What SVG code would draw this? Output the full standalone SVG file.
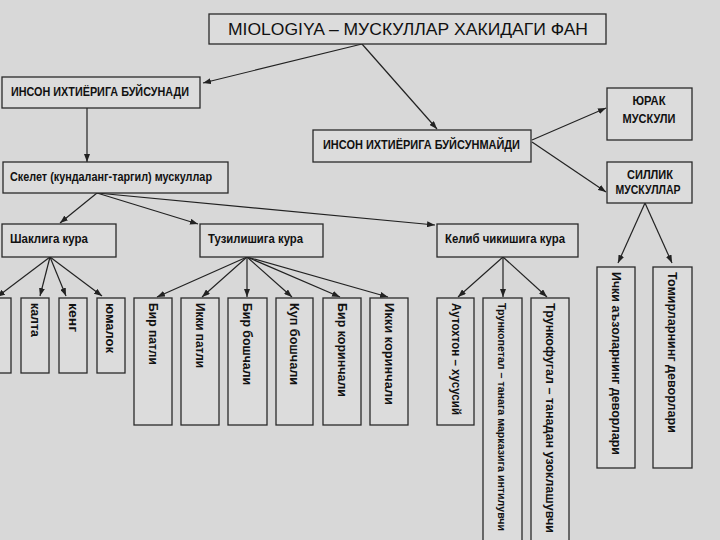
<svg xmlns="http://www.w3.org/2000/svg" width="720" height="540" viewBox="0 0 720 540">
<style>
.bg{fill:#d8d8d8}
.box{fill:#dcdcdc;stroke:#2a2a2a;stroke-width:1.3}
.t{font-family:"Liberation Sans",Arial,sans-serif;font-weight:bold;font-size:12px;fill:#111}
.title{font-family:"Liberation Sans",Arial,sans-serif;font-size:16px;fill:#111}
.c{text-anchor:middle}
.ln{stroke:#222;stroke-width:1.2;fill:none;marker-end:url(#ah)}
</style>
<defs>
<marker id="ah" markerUnits="userSpaceOnUse" markerWidth="8" markerHeight="6" refX="8" refY="3" orient="auto">
<path d="M0,0 L8,3 L0,6 z" fill="#222"/>
</marker>
</defs>
<rect class="bg" x="0" y="0" width="720" height="540"/>

<g id="connectors">
<line class="ln" x1="362" y1="44" x2="203" y2="83"/>
<line class="ln" x1="362" y1="44" x2="437" y2="129"/>
<line class="ln" x1="532" y1="140" x2="606" y2="108"/>
<line class="ln" x1="532" y1="142" x2="606" y2="192"/>
<line class="ln" x1="87" y1="108" x2="87" y2="162"/>
<line class="ln" x1="97" y1="193" x2="60" y2="223"/>
<line class="ln" x1="97" y1="193" x2="198" y2="224"/>
<line class="ln" x1="97" y1="193" x2="435" y2="225"/>
<line class="ln" x1="50" y1="257" x2="-3" y2="297"/>
<line class="ln" x1="50" y1="257" x2="40" y2="296"/>
<line class="ln" x1="50" y1="257" x2="66" y2="296"/>
<line class="ln" x1="50" y1="257" x2="102" y2="296"/>
<line class="ln" x1="247" y1="257" x2="157" y2="297"/>
<line class="ln" x1="247" y1="257" x2="202" y2="297"/>
<line class="ln" x1="247" y1="257" x2="247" y2="297"/>
<line class="ln" x1="247" y1="257" x2="292" y2="297"/>
<line class="ln" x1="247" y1="257" x2="340" y2="297"/>
<line class="ln" x1="247" y1="257" x2="388" y2="297"/>
<line class="ln" x1="503" y1="257" x2="458" y2="297"/>
<line class="ln" x1="503" y1="257" x2="503" y2="297"/>
<line class="ln" x1="503" y1="257" x2="547" y2="297"/>
<line class="ln" x1="645" y1="203" x2="618" y2="263"/>
<line class="ln" x1="645" y1="203" x2="672" y2="263"/>
</g>

<g id="title">
<rect class="box" x="209" y="14" width="397" height="30"/>
<text class="title" x="228" y="35" textLength="360" lengthAdjust="spacingAndGlyphs">MIOLOGIYA – МУСКУЛЛАР ХАКИДАГИ ФАН</text>
</g>
<g id="buysunadi">
<rect class="box" x="2" y="77" width="198" height="31"/>
<text class="t" x="11" y="96" textLength="178" lengthAdjust="spacingAndGlyphs">ИНСОН ИХТИЁРИГА БУЙСУНАДИ</text>
</g>
<g id="buysunmaydi">
<rect class="box" x="313" y="130" width="218" height="32"/>
<text class="t" x="323" y="149" textLength="197" lengthAdjust="spacingAndGlyphs">ИНСОН ИХТИЁРИГА БУЙСУНМАЙДИ</text>
</g>
<g id="yurak">
<rect class="box" x="607" y="88" width="85" height="52"/>
<text class="t c" x="649" y="105" textLength="33" lengthAdjust="spacingAndGlyphs">ЮРАК</text>
<text class="t c" x="649" y="123" textLength="53" lengthAdjust="spacingAndGlyphs">МУСКУЛИ</text>
</g>
<g id="sillik">
<rect class="box" x="607" y="162" width="85" height="41"/>
<text class="t c" x="650" y="179" textLength="46" lengthAdjust="spacingAndGlyphs">СИЛЛИК</text>
<text class="t c" x="648" y="194" textLength="65" lengthAdjust="spacingAndGlyphs">МУСКУЛЛАР</text>
</g>
<g id="skelet">
<rect class="box" x="3" y="162" width="225" height="31"/>
<text class="t" x="10" y="181" textLength="202" lengthAdjust="spacingAndGlyphs">Скелет (кундаланг-таргил) мускуллар</text>
</g>
<g id="shakl">
<rect class="box" x="2" y="224" width="114" height="33"/>
<text class="t" x="10" y="243" textLength="78" lengthAdjust="spacingAndGlyphs">Шаклига кура</text>
</g>
<g id="tuzilish">
<rect class="box" x="200" y="224" width="123" height="33"/>
<text class="t" x="208" y="243" textLength="95" lengthAdjust="spacingAndGlyphs">Тузилишига кура</text>
</g>
<g id="kelib">
<rect class="box" x="437" y="224" width="141" height="33"/>
<text class="t" x="445" y="243" textLength="120" lengthAdjust="spacingAndGlyphs">Келиб чикишига кура</text>
</g>

<g id="shakl0"><rect class="box" x="-17" y="298" width="28" height="75"/></g>
<g id="kalta"><rect class="box" x="21" y="298" width="28" height="75"/>
<text class="t" transform="translate(31,303) rotate(90)" textLength="34" lengthAdjust="spacingAndGlyphs">калта</text></g>
<g id="keng"><rect class="box" x="59" y="298" width="28" height="75"/>
<text class="t" transform="translate(69,303) rotate(90)" textLength="29" lengthAdjust="spacingAndGlyphs">кенг</text></g>
<g id="yumalok"><rect class="box" x="97" y="298" width="28" height="75"/>
<text class="t" transform="translate(106,303) rotate(90)" textLength="50" lengthAdjust="spacingAndGlyphs">юмалок</text></g>

<g id="t1"><rect class="box" x="134" y="298" width="38" height="127"/>
<text class="t" transform="translate(149,303) rotate(90)" textLength="62" lengthAdjust="spacingAndGlyphs">Бир патли</text></g>
<g id="t2"><rect class="box" x="181" y="298" width="38" height="127"/>
<text class="t" transform="translate(196,303) rotate(90)" textLength="65" lengthAdjust="spacingAndGlyphs">Икки патли</text></g>
<g id="t3"><rect class="box" x="228" y="298" width="39" height="127"/>
<text class="t" transform="translate(243,303) rotate(90)" textLength="82" lengthAdjust="spacingAndGlyphs">Бир бошчали</text></g>
<g id="t4"><rect class="box" x="276" y="298" width="37" height="127"/>
<text class="t" transform="translate(290,303) rotate(90)" textLength="82" lengthAdjust="spacingAndGlyphs">Куп бошчали</text></g>
<g id="t5"><rect class="box" x="323" y="298" width="38" height="127"/>
<text class="t" transform="translate(338,303) rotate(90)" textLength="94" lengthAdjust="spacingAndGlyphs">Бир коринчали</text></g>
<g id="t6"><rect class="box" x="370" y="298" width="38" height="127"/>
<text class="t" transform="translate(385,303) rotate(90)" textLength="102" lengthAdjust="spacingAndGlyphs">Икки коринчали</text></g>

<g id="k1"><rect class="box" x="437" y="298" width="37" height="127"/>
<text class="t" transform="translate(452,303) rotate(90)" textLength="112" lengthAdjust="spacingAndGlyphs">Аутохтон – хусусий</text></g>
<g id="k2"><rect class="box" x="483" y="298" width="39" height="260"/>
<text class="t" style="font-size:10px" transform="translate(498,303) rotate(90)" textLength="228" lengthAdjust="spacingAndGlyphs">Трункопетал – танага марказига интилувчи</text></g>
<g id="k3"><rect class="box" x="531" y="298" width="38" height="260"/>
<text class="t" transform="translate(546,303) rotate(90)" textLength="230" lengthAdjust="spacingAndGlyphs">Трункофугал – танадан узоклашувчи</text></g>

<g id="s1"><rect class="box" x="597" y="267" width="38" height="201"/>
<text class="t" transform="translate(612,272) rotate(90)" textLength="183" lengthAdjust="spacingAndGlyphs">Ички аъзоларнинг деворлари</text></g>
<g id="s2"><rect class="box" x="653" y="267" width="39" height="201"/>
<text class="t" transform="translate(668,272) rotate(90)" textLength="161" lengthAdjust="spacingAndGlyphs">Томирларнинг деворлари</text></g>
</svg>
